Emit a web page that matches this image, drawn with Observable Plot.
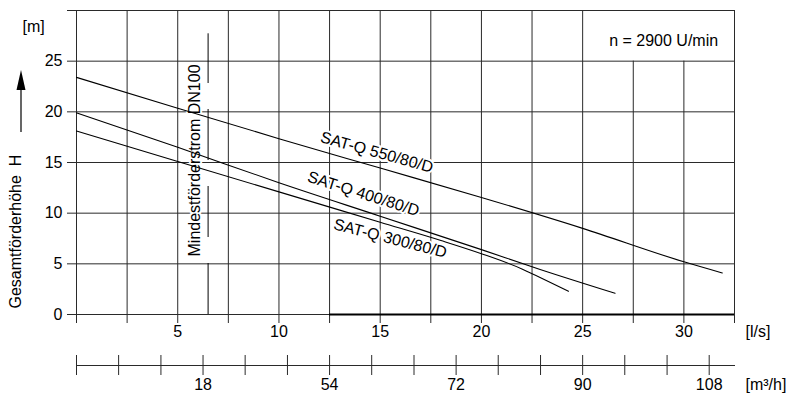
<!DOCTYPE html>
<html><head><meta charset="utf-8">
<script src="https://cdn.jsdelivr.net/npm/d3@7"></script>
<script src="https://cdn.jsdelivr.net/npm/@observablehq/plot@0.6"></script>
<style>
html,body{margin:0;padding:0;background:#fff;}
#chart svg{display:block;}
</style>
</head><body><div id="chart"></div>
<script>
// ---- data ----
const flowTicks = [5, 10, 15, 20, 25, 30];            // [l/s]
const headTicks = [0, 5, 10, 15, 20, 25];             // [m]
const gridX = [0, 2.5, 5, 7.5, 10, 12.5, 15, 17.5, 20, 22.5, 25, 32.5];
const gridXShort = [27.5, 30];                        // stop below the speed box
const gridY = [0, 5, 10, 15, 20, 25, 30];
const m3hTickPos = [0, 2.08, 4.17, 6.25, 8.33, 10.42, 12.5, 14.58, 16.67, 18.75, 20.83, 22.92, 25, 27.08, 29.17, 31.25];
const m3hLabelPos = [6.25, 12.5, 18.75, 25, 31.25];
const m3hLabels = ["18", "54", "72", "90", "108"];

const q550 = [0, 5, 10, 15, 20, 25, 30, 31.9];
const h550 = [23.4, 20.35, 17.35, 14.45, 11.55, 8.5, 5.2, 4.1];
const q400 = [0, 5, 10, 15, 20, 22.9, 26.6];
const h400 = [19.9, 16.5, 13.0, 9.7, 6.4, 4.45, 2.1];
const q300 = [0, 5, 10, 15, 18, 20, 22, 23, 24.3];
const h300 = [18.1, 15.1, 12.1, 9.1, 7.3, 6.0, 4.5, 3.55, 2.3];

const seriesNames = ["SAT-Q 550/80/D", "SAT-Q 400/80/D", "SAT-Q 300/80/D"];
const labelQ = [14.83, 14.17, 15.5];
const labelH = [16.0, 11.9, 7.5];
const labelAngle = [15.5, 17.5, 14.5];

const minFlowQ = [6.5];
const minFlowTopH = 27.7;
const minFlowText = ["Mindestförderstrom DN100"];
const minFlowTextQ = [5.83];
const minFlowTextH = [15.2];

const speedText = ["n = 2900 U/min"];
const speedQ = [29.0];
const speedH = [27.05];

const yTitle = "Gesamtförderhöhe\u00a0\u00a0H";

// ---- build ----
const curves = [
  ...q550.map((q, i) => ({series: seriesNames[0], q, h: h550[i]})),
  ...q400.map((q, i) => ({series: seriesNames[1], q, h: h400[i]})),
  ...q300.map((q, i) => ({series: seriesNames[2], q, h: h300[i]}))
];
const labels = seriesNames.map((s, i) => ({s, q: labelQ[i], h: labelH[i], a: labelAngle[i]}));

const FONT = "'Liberation Sans', Arial, Helvetica, sans-serif";
const FS = 16;
const GRID = "#2a2a2a";

function arrowMark(index, scales, values, dims) {
  const x = dims.marginLeft - 55;
  const g = d3.create("svg:g");
  g.append("line").attr("x1", x).attr("x2", x)
    .attr("y1", dims.marginTop + 122).attr("y2", dims.marginTop + 76)
    .attr("stroke", "black").attr("stroke-width", 1.2);
  g.append("path")
    .attr("d", `M${x},${dims.marginTop + 60}L${x - 4.5},${dims.marginTop + 80}L${x + 4.5},${dims.marginTop + 80}Z`)
    .attr("fill", "black");
  return g.node();
}

const chart = Plot.plot({
  width: 798,
  height: 398,
  marginLeft: 76,
  marginRight: 64,
  marginTop: 10,
  marginBottom: 84,
  style: {fontFamily: FONT, fontSize: FS + "px", background: "white", color: "black"},
  x: {domain: [0, 32.5], axis: null},
  y: {domain: [0, 30], axis: null},
  marks: [
    // grid
    Plot.ruleX(gridX, {insetBottom: -9, stroke: GRID, strokeWidth: 1}),
    Plot.ruleX(gridXShort, {y1: 25, y2: 0, insetBottom: -9, stroke: GRID, strokeWidth: 1}),
    Plot.ruleY(gridY, {insetLeft: -9, stroke: GRID, strokeWidth: 1}),
    Plot.ruleY([0], {x1: 12.5, x2: 32.5, stroke: "black", strokeWidth: 2}),
    // second (m³/h) axis
    Plot.ruleY([0], {dy: 51, insetRight: -1, stroke: GRID, strokeWidth: 1}),
    Plot.ruleX(m3hTickPos, {y1: 0, y2: 0, insetTop: -10, insetBottom: -10, dy: 51, stroke: GRID, strokeWidth: 1}),
    // minimum flow line
    Plot.ruleX(minFlowQ, {y1: 0, y2: minFlowTopH, stroke: "black", strokeWidth: 1, strokeDasharray: "51,26"}),
    // annotations with white halo
    Plot.text(minFlowText, {x: minFlowTextQ, y: minFlowTextH, text: d => d, rotate: -90, fontSize: FS,
      fill: "black", stroke: "white", strokeWidth: 4, paintOrder: "stroke"}),
    Plot.text(labels, {x: "q", y: "h", text: "s", rotate: "a", fontSize: FS,
      fill: "black", stroke: "white", strokeWidth: 4, paintOrder: "stroke"}),
    Plot.text(speedText, {x: speedQ, y: speedH, text: d => d, fontSize: FS, fill: "black"}),
    // curves
    Plot.line(curves, {x: "q", y: "h", z: "series", curve: "monotone-x", stroke: "black", strokeWidth: 1.1}),
    // tick labels
    Plot.text(headTicks, {y: d => d, text: d => String(d), frameAnchor: "left", dx: -14, textAnchor: "end", fontSize: FS}),
    Plot.text(flowTicks, {x: d => d, text: d => String(d), frameAnchor: "bottom", dy: 22, fontSize: FS}),
    Plot.text(m3hLabels, {x: m3hLabelPos, text: d => d, frameAnchor: "bottom", dy: 75, fontSize: FS}),
    // units & titles
    Plot.text(["[l/s]"], {frameAnchor: "bottom-right", dx: 11, dy: 22, textAnchor: "start", fontSize: FS}),
    Plot.text(["[m³/h]"], {frameAnchor: "bottom-right", dx: 11, dy: 75, textAnchor: "start", fontSize: FS}),
    Plot.text(["[m]"], {frameAnchor: "top-left", dx: -54, dy: 10, fontSize: FS}),
    Plot.text([yTitle], {frameAnchor: "bottom-left", dx: -56, dy: -6, rotate: -90, textAnchor: "start", fontSize: FS}),
    arrowMark
  ]
});
document.getElementById("chart").appendChild(chart);
</script>
</body></html>
